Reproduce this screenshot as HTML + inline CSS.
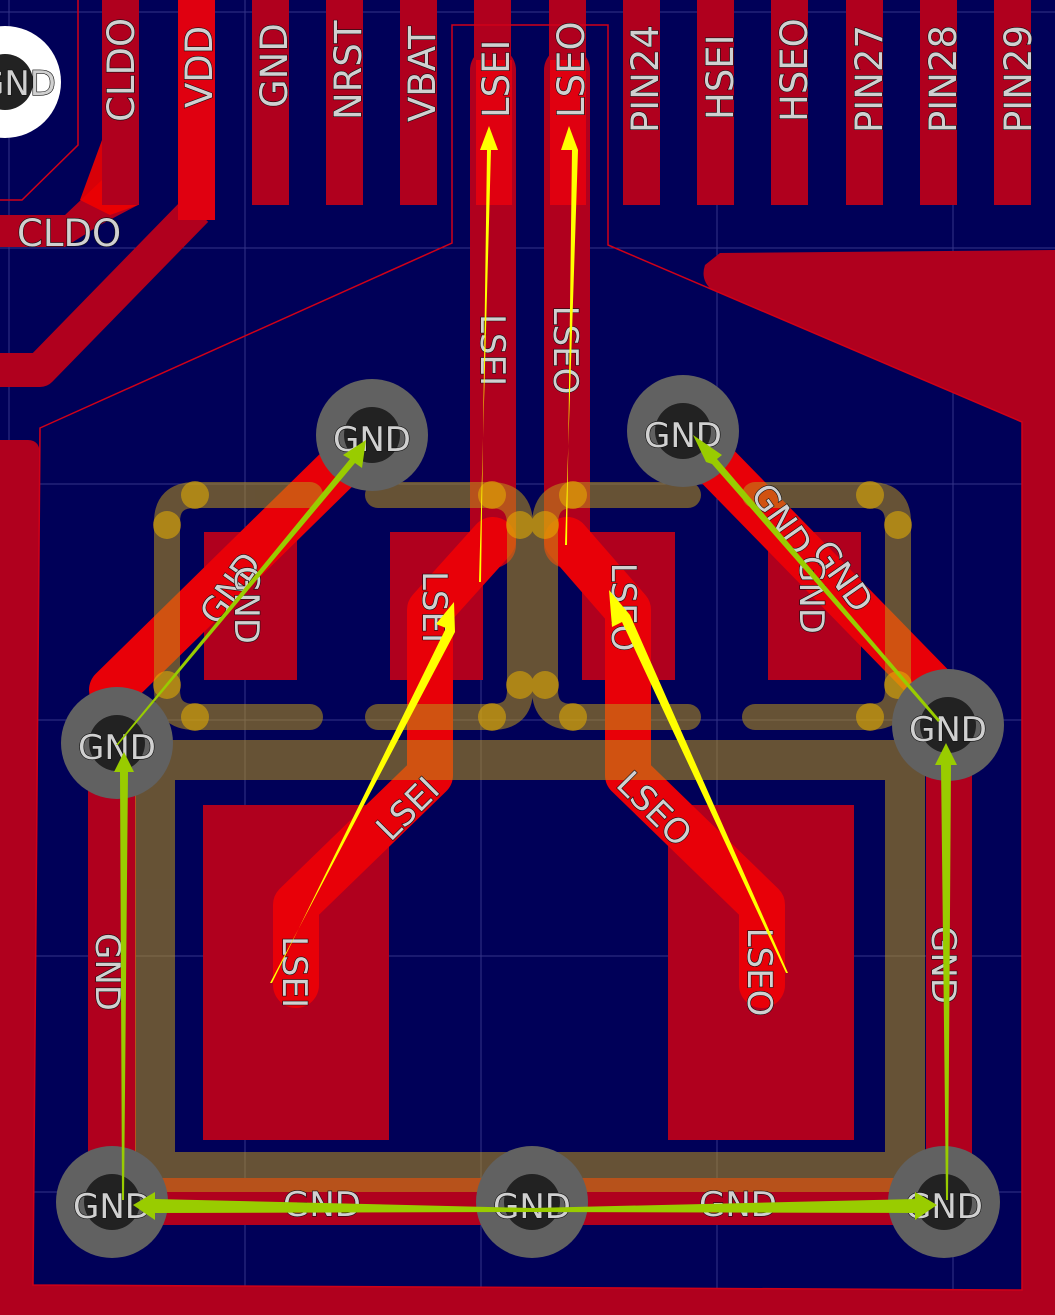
<!DOCTYPE html>
<html><head><meta charset="utf-8"><style>
html,body{margin:0;padding:0;background:#000058;}
svg{display:block}
text{font-family:"DejaVu Sans","Liberation Sans",sans-serif;fill:#d0d0d0;stroke:#111;stroke-width:1.2;paint-order:stroke;}
</style></head><body>
<svg width="1055" height="1315" viewBox="0 0 1055 1315" xmlns="http://www.w3.org/2000/svg">
<rect width="1055" height="1315" fill="#000058"/>
<!-- grid -->
<g stroke="#5858a8" stroke-width="1" opacity="0.6">
<line x1="9" y1="0" x2="9" y2="1315"/><line x1="245" y1="0" x2="245" y2="1315"/><line x1="481" y1="0" x2="481" y2="1315"/><line x1="717" y1="0" x2="717" y2="1315"/><line x1="953" y1="0" x2="953" y2="1315"/>
<line x1="0" y1="12" x2="1055" y2="12"/><line x1="0" y1="248" x2="1055" y2="248"/><line x1="0" y1="484" x2="1055" y2="484"/><line x1="0" y1="720" x2="1055" y2="720"/><line x1="0" y1="956" x2="1055" y2="956"/><line x1="0" y1="1192" x2="1055" y2="1192"/>
</g>
<!-- copper pour -->
<path fill="#b0001e" fill-rule="evenodd" d="M720,253 L1055,250 L1055,1315 L0,1315 L0,440 L28,440 Q40,440 40,455 L33,1285 L1022,1290 L1022,422 L712,290 Q700,280 705,265 Z"/>
<!-- top-left white via -->
<circle cx="5" cy="82" r="56" fill="#fff"/><circle cx="5" cy="82" r="28" fill="#222"/>
<text x="-22" y="95" font-size="34">GND</text>
<!-- CLDO trace -->
<path d="M0,215 L65,215 L102,180 L102,140 L138,140 L138,205 L100,225 L65,247 L0,247 Z" fill="#b0001e"/>
<path d="M102,140 L138,190 L138,205 L110,215 L80,200 Z" fill="#f00000" opacity="0.9"/>
<path d="M196,210 L40,370 L0,370" fill="none" stroke="#b0001e" stroke-width="34" stroke-linejoin="round"/>
<!-- top pads -->
<g fill="#b0001e">
<rect x="102" y="0" width="37" height="205"/><rect x="178" y="0" width="37" height="220" fill="#e00010"/><rect x="252" y="0" width="37" height="205"/><rect x="326" y="0" width="37" height="205"/><rect x="400" y="0" width="37" height="205"/><rect x="474" y="0" width="37" height="205"/><rect x="549" y="0" width="37" height="205"/><rect x="623" y="0" width="37" height="205"/><rect x="697" y="0" width="37" height="205"/><rect x="771" y="0" width="37" height="205"/><rect x="846" y="0" width="37" height="205"/><rect x="920" y="0" width="37" height="205"/><rect x="994" y="0" width="37" height="205"/>
</g>
<!-- LSEI/LSEO traces -->
<path d="M493,70 L493,545" stroke="#b0001e" stroke-width="46" stroke-linecap="round"/>
<path d="M567,70 L567,545" stroke="#b0001e" stroke-width="46" stroke-linecap="round"/>
<rect x="476" y="60" width="36" height="145" fill="#e00010"/><rect x="550" y="60" width="36" height="145" fill="#e00010"/>
<!-- board outline -->
<g fill="none" stroke="#d00018" stroke-width="1.5">
<path d="M78,0 L78,145 L22,200 L0,200"/>
<path d="M40,428 L452,243 L452,25 L608,25 L608,245 L1022,422 L1022,1290 L33,1285 Z"/>
</g>
<!-- middle pads -->
<g fill="#b0001e">
<rect x="204" y="532" width="93" height="148"/><rect x="390" y="532" width="93" height="148"/><rect x="582" y="532" width="93" height="148"/><rect x="768" y="532" width="93" height="148"/>
<rect x="203" y="805" width="186" height="335"/><rect x="668" y="805" width="186" height="335"/>
</g>
<!-- left/right/bottom GND traces -->
<rect x="88" y="745" width="48" height="480" fill="#b0001e"/>
<rect x="926" y="725" width="46" height="500" fill="#b0001e"/>
<rect x="112" y="1178" width="835" height="47" fill="#b0001e"/>
<!-- bright traces -->
<g fill="none" stroke="#e80008" stroke-width="46" stroke-linecap="round" stroke-linejoin="round">
<path d="M493,540 L430,610 L430,775 L296,905 L296,985"/>
<path d="M567,540 L628,610 L628,775 L762,905 L762,985"/>
<path d="M372,435 L112,690"/>
<path d="M683,431 L965,720"/>
</g>
<!-- silkscreen (translucent) -->
<g opacity="0.54">
<g fill="none" stroke="#bd9819" stroke-width="26" stroke-linecap="round">
<path d="M310,717 L195,717 Q167,717 167,690 L167,522 Q167,495 195,495 L310,495"/>
<path d="M378,495 L490,495 Q520,495 520,525 L520,690 Q520,717 492,717 L378,717"/>
<path d="M688,495 L573,495 Q545,495 545,525 L545,690 Q545,717 573,717 L688,717"/>
<path d="M755,717 L870,717 Q898,717 898,690 L898,522 Q898,495 870,495 L755,495"/>
</g>
<path d="M155,760 L905,760 L905,1172 L155,1172 Z" fill="none" stroke="#bd9819" stroke-width="40"/>
</g>
<g fill="#e8b000" opacity="0.55">
<circle cx="195" cy="495" r="14"/><circle cx="167" cy="525" r="14"/><circle cx="167" cy="685" r="14"/><circle cx="195" cy="717" r="14"/>
<circle cx="492" cy="495" r="14"/><circle cx="520" cy="525" r="14"/><circle cx="520" cy="685" r="14"/><circle cx="492" cy="717" r="14"/>
<circle cx="573" cy="495" r="14"/><circle cx="545" cy="525" r="14"/><circle cx="545" cy="685" r="14"/><circle cx="573" cy="717" r="14"/>
<circle cx="870" cy="495" r="14"/><circle cx="898" cy="525" r="14"/><circle cx="898" cy="685" r="14"/><circle cx="870" cy="717" r="14"/>
</g>
<!-- vias -->
<g>
<circle cx="372" cy="435" r="56" fill="#616161"/><circle cx="372" cy="435" r="28" fill="#222"/>
<circle cx="683" cy="431" r="56" fill="#616161"/><circle cx="683" cy="431" r="28" fill="#222"/>
<circle cx="117" cy="743" r="56" fill="#616161"/><circle cx="117" cy="743" r="28" fill="#222"/>
<circle cx="948" cy="725" r="56" fill="#616161"/><circle cx="948" cy="725" r="28" fill="#222"/>
<circle cx="112" cy="1202" r="56" fill="#616161"/><circle cx="112" cy="1202" r="28" fill="#222"/>
<circle cx="532" cy="1202" r="56" fill="#616161"/><circle cx="532" cy="1202" r="28" fill="#222"/>
<circle cx="944" cy="1202" r="56" fill="#616161"/><circle cx="944" cy="1202" r="28" fill="#222"/>
</g>
<!-- labels -->
<g font-size="34" text-anchor="middle">
<text x="372" y="451">GND</text><text x="683" y="447">GND</text><text x="117" y="759">GND</text><text x="948" y="741">GND</text>
<text x="112" y="1218">GND</text><text x="532" y="1218">GND</text><text x="944" y="1218">GND</text>
<text x="322" y="1216">GND</text><text x="738" y="1216">GND</text>
</g>
<g font-size="37">
<text transform="translate(134,122) rotate(-90)">CLDO</text>
<text transform="translate(212,108) rotate(-90)">VDD</text>
<text transform="translate(287,108) rotate(-90)">GND</text>
<text transform="translate(361,120) rotate(-90)">NRST</text>
<text transform="translate(435,122) rotate(-90)">VBAT</text>
<text transform="translate(509,118) rotate(-90)">LSEI</text>
<text transform="translate(584,118) rotate(-90)">LSEO</text>
<text transform="translate(658,133) rotate(-90)">PIN24</text>
<text transform="translate(733,120) rotate(-90)">HSEI</text>
<text transform="translate(807,122) rotate(-90)">HSEO</text>
<text transform="translate(882,133) rotate(-90)">PIN27</text>
<text transform="translate(956,133) rotate(-90)">PIN28</text>
<text transform="translate(1031,133) rotate(-90)">PIN29</text>
<text x="17" y="246">CLDO</text>
</g>
<g font-size="34" text-anchor="middle">
<text transform="translate(481,350) rotate(90)">LSEI</text>
<text transform="translate(554,350) rotate(90)">LSEO</text>
<text transform="translate(423,607) rotate(90)">LSEI</text>
<text transform="translate(612,607) rotate(90)">LSEO</text>
<text transform="translate(283,972) rotate(90)">LSEI</text>
<text transform="translate(748,972) rotate(90)">LSEO</text>
<text transform="translate(96,972) rotate(90)">GND</text>
<text transform="translate(932,965) rotate(90)">GND</text>
<text transform="translate(416,817) rotate(-45)">LSEI</text>
<text transform="translate(646,817) rotate(45)">LSEO</text>
<text transform="translate(240,595) rotate(-55)">GND</text>
<text transform="translate(235,605) rotate(90)">GND</text>
<text transform="translate(772,526) rotate(55)">GND</text>
<text transform="translate(833,583) rotate(55)">GND</text>
<text transform="translate(800,595) rotate(90)">GND</text>
</g>
<!-- ratsnest arrows -->
<g fill="#ffff00">
<polygon points="479,582 481,582 487,150 480,150 489,126 498,150 491,150"/>
<polygon points="565,545 567,545 572,150 561,150 569,126 578,150"/>
<polygon points="270,983 272,983 446,628 436,624 454,602 455,632"/>
<polygon points="788,973 786,973 622,622 612,627 609,590 630,615"/>
</g>
<g fill="#99cc00">
<polygon points="122,1200 124,1200 128,772 134,772 124,752 114,772 120,772"/>
<polygon points="946,1200 948,1200 951,765 957,765 946,743 935,765 941,765"/>
<polygon points="532,1208 532,1212 155,1213 155,1220 133,1205 155,1192 155,1199"/>
<polygon points="532,1208 532,1212 915,1213 915,1220 937,1205 915,1192 915,1199"/>
<polygon points="116,745 118,745 355,463 362,468 366,440 343,455 350,459"/>
<polygon points="938,722 940,720 717,459 722,455 693,435 706,462 712,464"/>
</g>
</svg>
</body></html>
